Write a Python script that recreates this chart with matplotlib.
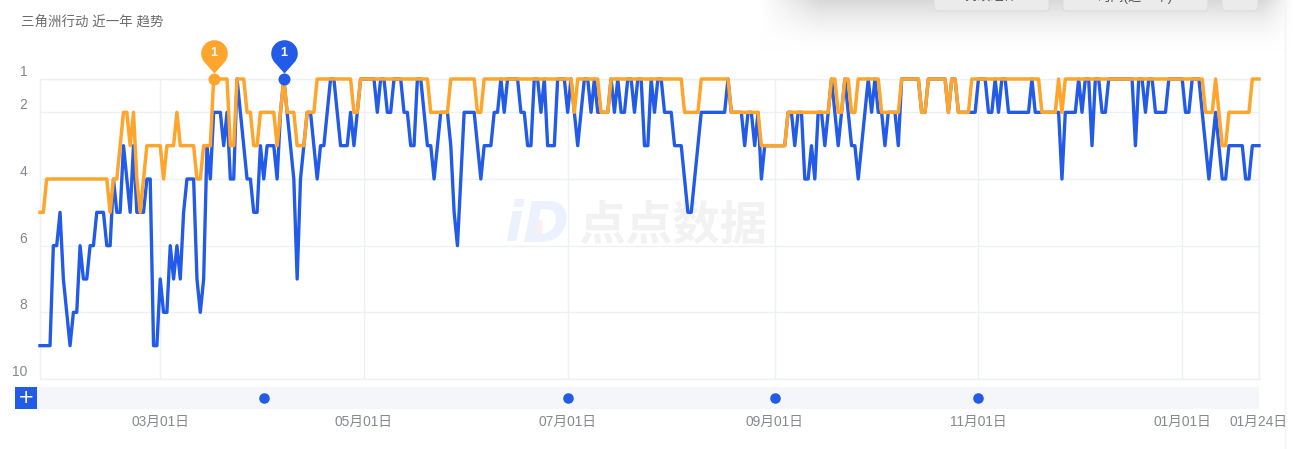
from datetime import date

import matplotlib
matplotlib.use("Agg")
import matplotlib.pyplot as plt
import numpy as np
from matplotlib.patches import FancyBboxPatch, Rectangle
from matplotlib.path import Path
from matplotlib.transforms import blended_transform_factory

plt.rcParams["font.family"] = ["Liberation Sans", "Noto Sans CJK SC", "DejaVu Sans"]

W, H = 1298, 449
BLUE = "#225be8"
ORANGE = "#ffa52c"
GRID = "#eef0f4"
LABEL = "#85888e"

START = date(2025, 1, 24)
TICK_DATES = [date(2025, 3, 1), date(2025, 5, 1), date(2025, 7, 1),
              date(2025, 9, 1), date(2025, 11, 1), date(2026, 1, 1), date(2026, 1, 24)]
TICK_LABELS = ["03月01日", "05月01日", "07月01日", "09月01日", "11月01日", "01月01日", "01月24日"]
Y_TICKS = [1, 2, 4, 6, 8, 10]
EVENT_DATES = [date(2025, 4, 1), date(2025, 7, 1), date(2025, 9, 1), date(2025, 11, 1)]
ORANGE_PIN = date(2025, 3, 17)
BLUE_PIN = date(2025, 4, 7)

# one rank per day
blue = [
    9, 9, 9, 9, 6, 6, 5, 7, 8, 9,
    8, 8, 6, 7, 7, 6, 6, 5, 5, 5,
    6, 6, 4, 5, 5, 3, 4, 5, 3, 5,
    5, 5, 4, 4, 9, 9, 7, 8, 8, 6,
    7, 6, 7, 5, 4, 4, 4, 7, 8, 7,
    3, 4, 2, 2, 2, 3, 2, 4, 4, 1,
    2, 3, 4, 4, 5, 5, 3, 4, 3, 3,
    3, 4, 2, 1, 2, 3, 4, 7, 4, 3,
    2, 2, 3, 4, 3, 3, 2, 1, 1, 2,
    3, 3, 3, 2, 3, 2, 1, 1, 1, 1,
    1, 2, 1, 1, 2, 2, 1, 1, 1, 2,
    2, 3, 3, 1, 1, 2, 3, 3, 4, 3,
    2, 2, 2, 3, 5, 6, 4, 2, 2, 2,
    2, 3, 4, 3, 3, 3, 2, 2, 1, 2,
    1, 1, 1, 1, 2, 2, 3, 3, 1, 1,
    2, 1, 3, 3, 3, 1, 1, 1, 2, 1,
    2, 3, 2, 1, 1, 2, 1, 2, 2, 2,
    2, 1, 2, 1, 2, 2, 1, 1, 2, 1,
    1, 3, 3, 1, 2, 1, 1, 2, 2, 2,
    3, 3, 3, 4, 5, 5, 4, 3, 2, 2,
    2, 2, 2, 2, 2, 2, 1, 2, 2, 2,
    2, 3, 2, 2, 3, 2, 4, 3, 3, 3,
    3, 3, 3, 3, 2, 2, 3, 2, 2, 4,
    4, 3, 4, 2, 2, 3, 2, 1, 2, 3,
    2, 1, 2, 3, 3, 4, 3, 2, 1, 2,
    1, 2, 2, 3, 2, 2, 2, 3, 1, 1,
    1, 1, 1, 1, 2, 2, 1, 1, 1, 1,
    1, 1, 2, 1, 1, 2, 2, 2, 2, 2,
    2, 1, 1, 1, 2, 2, 1, 2, 1, 1,
    2, 2, 2, 2, 2, 2, 2, 1, 2, 2,
    2, 2, 2, 2, 2, 2, 4, 2, 2, 2,
    2, 1, 2, 1, 1, 3, 1, 1, 2, 2,
    1, 1, 1, 1, 1, 1, 1, 1, 3, 1,
    1, 2, 1, 1, 2, 2, 2, 2, 1, 1,
    1, 1, 1, 2, 2, 1, 1, 1, 2, 3,
    4, 3, 2, 3, 4, 4, 3, 3, 3, 3,
    3, 4, 4, 3, 3, 3,
]
orange = [
    5, 5, 4, 4, 4, 4, 4, 4, 4, 4,
    4, 4, 4, 4, 4, 4, 4, 4, 4, 4,
    4, 5, 4, 4, 3, 2, 2, 3, 2, 4,
    5, 4, 3, 3, 3, 3, 3, 4, 3, 3,
    3, 2, 3, 3, 3, 3, 3, 4, 4, 3,
    3, 3, 1, 1, 1, 1, 1, 3, 3, 1,
    1, 1, 2, 2, 3, 3, 2, 2, 2, 2,
    2, 3, 2, 1, 2, 2, 2, 3, 3, 3,
    2, 2, 2, 1, 1, 1, 1, 1, 1, 1,
    1, 1, 1, 1, 2, 2, 1, 1, 1, 1,
    1, 1, 1, 1, 1, 1, 1, 1, 1, 1,
    1, 1, 1, 1, 1, 1, 1, 2, 2, 2,
    2, 2, 2, 1, 1, 1, 1, 1, 1, 1,
    1, 2, 2, 1, 1, 1, 1, 1, 1, 1,
    1, 1, 1, 1, 1, 1, 1, 1, 1, 1,
    1, 1, 1, 1, 1, 1, 1, 1, 1, 1,
    2, 1, 1, 1, 1, 1, 1, 1, 2, 2,
    2, 1, 1, 1, 1, 1, 1, 1, 1, 1,
    1, 1, 1, 1, 1, 1, 1, 1, 1, 1,
    1, 1, 1, 2, 2, 2, 2, 2, 1, 1,
    1, 1, 1, 1, 1, 1, 1, 2, 2, 2,
    2, 2, 2, 2, 2, 2, 3, 3, 3, 3,
    3, 3, 3, 3, 2, 2, 2, 2, 2, 2,
    2, 2, 2, 2, 2, 2, 2, 1, 1, 2,
    2, 1, 1, 2, 2, 1, 1, 1, 1, 1,
    1, 1, 2, 2, 2, 2, 2, 2, 1, 1,
    1, 1, 1, 1, 2, 2, 1, 1, 1, 1,
    1, 1, 2, 1, 1, 2, 2, 2, 2, 1,
    1, 1, 1, 1, 1, 1, 1, 1, 1, 1,
    1, 1, 1, 1, 1, 1, 1, 1, 1, 1,
    2, 2, 2, 2, 2, 1, 2, 1, 1, 1,
    1, 1, 1, 1, 1, 1, 1, 1, 1, 1,
    1, 1, 1, 1, 1, 1, 1, 1, 1, 1,
    1, 1, 1, 1, 1, 1, 1, 1, 1, 1,
    1, 1, 1, 1, 1, 1, 1, 1, 1, 2,
    2, 2, 1, 2, 3, 3, 2, 2, 2, 2,
    2, 2, 2, 1, 1, 1,
]


def day_of(d):
    return (d - START).days


def pin_marker():
    # teardrop with its tip just above the point it marks
    arc = Path.arc(-40, 220)
    verts = np.vstack([[0, 6], arc.vertices * 13.3 + [0, 26], [0, 6], [0, 6]])
    codes = [Path.MOVETO, Path.LINETO] + list(arc.codes[1:]) + [Path.LINETO, Path.CLOSEPOLY]
    return Path(verts, codes)


def add_pin(ax, day, value, color):
    px = 0.72
    ax.plot(day, value, marker="o", ms=12 * px, color=color, clip_on=False, zorder=6, mew=0)
    # custom markers are scaled by their largest coordinate, 39.3 px here
    ax.plot(day, value, marker=pin_marker(), ms=2 * 39.3 * px, color=color, mew=0,
            clip_on=False, zorder=6)
    ax.annotate("1", (day, value), xytext=(0, 25.5 * px), textcoords="offset points",
                ha="center", va="center", color="white", fontsize=9, fontweight="bold", zorder=7)


fig = plt.figure(figsize=(W / 100, H / 100), dpi=100)

# page furniture in pixel coordinates, below the chart
bg = fig.add_axes([0, 0, 1, 1], zorder=0)
bg.axis("off")

# drop shadow of the floating toolbar at the top
xx, yy = np.meshgrid(np.arange(W), np.arange(60))
fade_y = np.clip(1 - yy / 52, 0, 1) ** 1.8
fade_x = np.clip((xx - 760) / 60, 0, 1) * np.clip((1292 - xx) / 30, 0, 1)
shadow = 1 - 0.15 * fade_y * fade_x
bg.imshow(np.dstack([shadow] * 3), extent=(0, W, 60, 0), aspect="auto", zorder=0)
bg.set_xlim(0, W)
bg.set_ylim(H, 0)

for x0, x1, txt in [(934, 1049, "持续组件"), (1063, 1208, "时间(近一年)"), (1222, 1258, "")]:
    bg.add_patch(FancyBboxPatch((x0, -20), x1 - x0, 31, boxstyle="round,pad=0,rounding_size=4",
                                fc="#ebebeb", ec="#dcdcdc", lw=0.8, zorder=1))
    bg.text((x0 + x1) / 2, -3, txt, ha="center", va="center", fontsize=9.5, color="#555555", zorder=2)

bg.plot([1285, 1285], [0, H], color="#f3f3f3", lw=1, zorder=1)

bg.text(21, 23, "三角洲行动 近一年 趋势", fontsize=9.7, color="#6b6b6b", fontweight="medium",
        ha="left", va="center")

# watermark
bg.text(673, 228, "点点数据", fontsize=34, color="#f2f2f2", fontweight="bold", ha="center", va="center")
bg.text(537, 226, "iD", fontsize=40, color="#ecf2fd", fontweight="bold", style="italic",
        family="DejaVu Sans", ha="center", va="center")
bg.add_patch(Rectangle((532, 220), 10, 17, fc="#fdf0ec", ec="none", zorder=1))

# range slider strip
bg.add_patch(Rectangle((37, 387), 1222, 22, fc="#f5f6fa", ec="none"))
bg.add_patch(Rectangle((15, 387), 22, 22, fc=BLUE, ec="none"))
bg.text(26, 397.5, "+", color="white", fontsize=14, ha="center", va="center",
        family="DejaVu Sans")

ax = fig.add_axes([40 / W, 1 - 379 / H, 1219 / W, 300 / H], zorder=1)
ax.patch.set_alpha(0)
days = np.arange(len(blue))
ax.plot(days, blue, color=BLUE, lw=2.4, solid_joinstyle="round", clip_on=False, zorder=3)
ax.plot(np.arange(len(orange)), orange, color=ORANGE, lw=2.5, solid_joinstyle="round",
        clip_on=False, zorder=4)
ax.set_xlim(0, day_of(TICK_DATES[-1]))
ax.set_ylim(10, 1)

tick_days = [day_of(d) for d in TICK_DATES]
ax.set_xticks(tick_days, TICK_LABELS)
ax.set_yticks(Y_TICKS)
ax.tick_params(axis="x", length=0, pad=26, labelsize=9.9, labelcolor=LABEL)
ax.tick_params(axis="y", length=0, pad=9, labelsize=10, labelcolor=LABEL)
for lab in ax.get_yticklabels():
    lab.set_va("bottom")
ax.grid(True, color=GRID, lw=1)
ax.set_axisbelow(True)
for side in ax.spines.values():
    side.set_color(GRID)
    side.set_linewidth(1)

add_pin(ax, day_of(ORANGE_PIN), orange[day_of(ORANGE_PIN)], ORANGE)
add_pin(ax, day_of(BLUE_PIN), blue[day_of(BLUE_PIN)], BLUE)

# event dots on the slider strip
strip = blended_transform_factory(ax.transData, ax.transAxes)
ax.plot([day_of(d) for d in EVENT_DATES], [-19 / 300] * len(EVENT_DATES), "o", ms=7.6, mew=0,
        color=BLUE, transform=strip, clip_on=False)

fig.savefig("out.png", dpi=100)
